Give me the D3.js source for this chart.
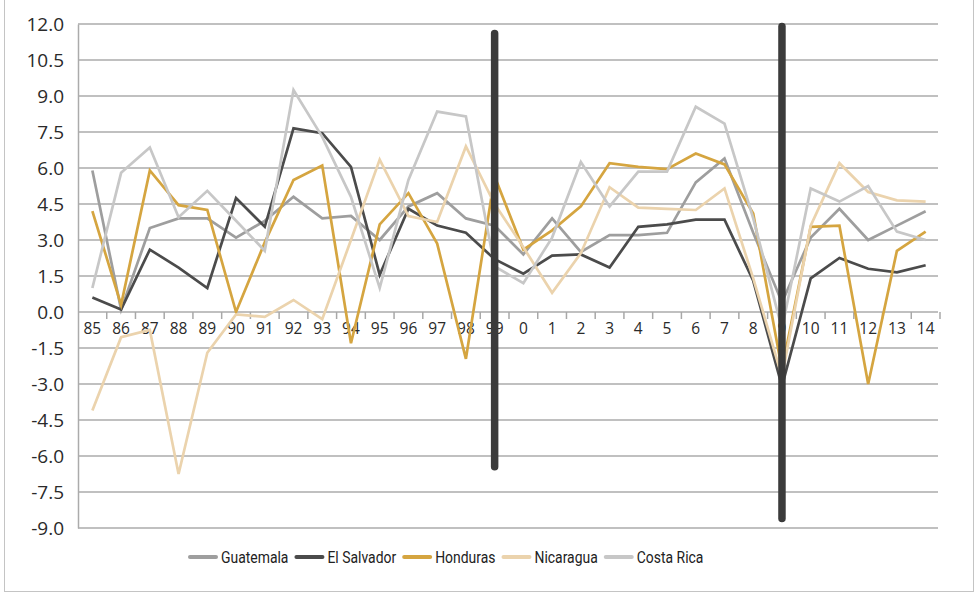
<!DOCTYPE html>
<html>
<head>
<meta charset="utf-8">
<script src="https://cdn.jsdelivr.net/npm/d3@7"></script>
<style>
  html, body { margin: 0; padding: 0; background: #fff; }
  svg { display: block; }
  .ylab { font-family: 'Open Sans', 'Noto Sans', sans-serif; font-size: 19px; fill: #2a2a2a; }
  .xlab { font-family: 'Open Sans', 'Noto Sans', sans-serif; font-size: 15.5px; fill: #2a2a2a; }
  .leg  { font-family: Roboto, 'Noto Sans', sans-serif; font-size: 17px; fill: #222; }
</style>
</head>
<body>
<svg id="chart" width="977" height="594"></svg>
<script>
// Year labels (two-digit, 1985–2014)
const years = ["85","86","87","88","89","90","91","92","93","94","95","96","97","98","99",
               "0","1","2","3","4","5","6","7","8","9","10","11","12","13","14"];

// Annual GDP growth (%) by country
const guatemala  = [5.9, 0.1, 3.5, 3.9, 3.9, 3.1, 3.8, 4.8, 3.9, 4.0, 3.0, 4.4, 4.95, 3.9, 3.6,
                    2.4, 3.9, 2.5, 3.2, 3.2, 3.3, 5.4, 6.4, 3.3, 0.4, 3.1, 4.3, 3.0, 3.6, 4.2];
const elSalvador = [0.6, 0.1, 2.6, 1.85, 1.0, 4.75, 3.55, 7.65, 7.45, 6.05, 1.55, 4.3, 3.6, 3.3, 2.2,
                    1.6, 2.35, 2.4, 1.85, 3.55, 3.65, 3.85, 3.85, 1.3, -3.1, 1.4, 2.25, 1.8, 1.65, 1.95];
const honduras   = [4.2, 0.3, 5.9, 4.45, 4.25, 0.0, 2.9, 5.5, 6.1, -1.3, 3.65, 4.95, 2.85, -1.95, 5.65,
                    2.6, 3.4, 4.4, 6.2, 6.05, 5.95, 6.6, 6.15, 4.1, -2.4, 3.55, 3.6, -3.0, 2.55, 3.35];
const nicaragua  = [-4.1, -1.05, -0.75, -6.75, -1.7, -0.1, -0.2, 0.5, -0.3, 3.0, 6.35, 4.0, 3.75, 6.9, 4.5,
                    2.7, 0.8, 2.45, 5.2, 4.35, 4.3, 4.25, 5.15, 1.4, -2.7, 3.6, 6.2, 5.0, 4.65, 4.6];
const costaRica  = [1.0, 5.8, 6.85, 3.95, 5.05, 3.8, 2.55, 9.25, 7.3, 4.8, 1.0, 5.5, 8.35, 8.15, 1.9,
                    1.2, 3.1, 6.25, 4.4, 5.85, 5.85, 8.55, 7.85, 3.9, -0.7, 5.15, 4.6, 5.25, 3.35, 3.0];

const seriesNames = ["Guatemala", "El Salvador", "Honduras", "Nicaragua", "Costa Rica"];
const seriesValues = [guatemala, elSalvador, honduras, nicaragua, costaRica];
const seriesColors = ["#9e9e9e", "#4b4b4b", "#d5a540", "#ebd3ad", "#c7c7c7"];

// Y axis ticks
const yTicks = [12, 10.5, 9, 7.5, 6, 4.5, 3, 1.5, 0, -1.5, -3, -4.5, -6, -7.5, -9];

// Period markers: year and vertical extent (in %)
const markerYears = ["99", "9"];
const markerTop = [11.6, 11.9];
const markerBottom = [-6.45, -8.6];

const svg = d3.select("#chart");

// outer frame
svg.append("rect")
  .attr("x", 4.5).attr("y", -2).attr("width", 969).attr("height", 593.5)
  .attr("fill", "none").attr("stroke", "#c4c4c4").attr("stroke-width", 1);

const x = d3.scaleBand().domain(years).range([78, 940]);
const y = d3.scaleLinear().domain([-9, 12]).range([528, 24]);

// horizontal gridlines
svg.append("g").selectAll("line").data(yTicks).join("line")
  .attr("x1", 78).attr("x2", 938)
  .attr("y1", d => y(d)).attr("y2", d => y(d))
  .attr("stroke", "#ababab").attr("stroke-width", 1.5);

// y axis
const yAxis = d3.axisLeft(y).tickValues(yTicks).tickSize(0).tickPadding(14)
  .tickFormat(d => d3.format(".1f")(d).replace("−", "-"));
const gy = svg.append("g").attr("transform", "translate(78,0)").call(yAxis);
gy.attr("font-size", null).attr("font-family", null);
gy.select(".domain").attr("stroke", "#ababab").attr("stroke-width", 1.5);
gy.selectAll("text").attr("class", "ylab").attr("fill", null);

// x axis on the zero line
const xAxis = d3.axisBottom(x).tickSize(0).tickPadding(11);
const gx = svg.append("g").attr("transform", `translate(0,${y(0)})`).call(xAxis);
gx.attr("font-size", null).attr("font-family", null);
gx.select(".domain").remove();
gx.selectAll("text").attr("class", "xlab").attr("fill", null);
// tick marks at band boundaries
gx.append("g").selectAll("line").data(years.slice(1)).join("line")
  .attr("x1", d => x(d)).attr("x2", d => x(d))
  .attr("y1", 0).attr("y2", 7)
  .attr("stroke", "#a8a8a8").attr("stroke-width", 1.5);
gx.append("line")
  .attr("x1", 940).attr("x2", 940).attr("y1", 0).attr("y2", 7)
  .attr("stroke", "#a8a8a8").attr("stroke-width", 1.5);

// series lines
const line = d3.line()
  .x((d, i) => x(years[i]) + x.bandwidth() / 2)
  .y(d => y(d));

svg.append("g").selectAll("path").data(seriesValues).join("path")
  .attr("d", d => line(d))
  .attr("fill", "none")
  .attr("stroke", (d, i) => seriesColors[i])
  .attr("stroke-width", 2.7)
  .attr("stroke-linejoin", "miter");

// period markers
svg.append("g").selectAll("line").data(markerYears).join("line")
  .attr("x1", d => x(d) + x.bandwidth() / 2)
  .attr("x2", d => x(d) + x.bandwidth() / 2)
  .attr("y1", (d, i) => y(markerTop[i]))
  .attr("y2", (d, i) => y(markerBottom[i]))
  .attr("stroke", "#3b3b3b").attr("stroke-width", 7.5)
  .attr("stroke-linecap", "round");

// legend (condensed text)
const legend = svg.append("g").attr("transform", "translate(190,557)");
const squeeze = 0.82;
let lx = 0;
seriesNames.forEach((name, i) => {
  const g = legend.append("g").attr("transform", `translate(${lx},0)`);
  g.append("line").attr("x1", 0).attr("x2", 26).attr("y1", 0).attr("y2", 0)
    .attr("stroke", seriesColors[i]).attr("stroke-width", 4).attr("stroke-linecap", "round");
  const t = g.append("text")
    .attr("class", "leg")
    .attr("transform", `translate(31,0) scale(${squeeze},1)`)
    .attr("dy", "0.35em")
    .text(name);
  lx += 31 + t.node().getComputedTextLength() * squeeze + 8;
});
</script>
</body>
</html>
